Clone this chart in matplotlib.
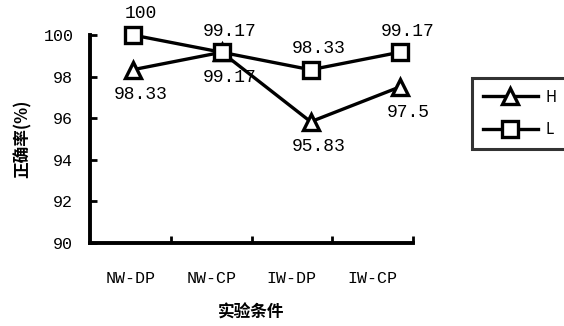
import matplotlib
matplotlib.use('Agg')
import matplotlib.pyplot as plt
from matplotlib.ticker import FixedLocator

plt.rcParams['font.family'] = ['Noto Sans CJK SC', 'DejaVu Sans']
NUM_FONT = 'Liberation Mono'

conditions = ['NW-DP', 'NW-CP', 'IW-DP', 'IW-CP']
acc_h = [98.33, 99.17, 95.83, 97.5]
acc_l = [100, 99.17, 98.33, 99.17]
labels_h = ['98.33', '99.17', '95.83', '97.5']
labels_l = ['100', '99.17', '98.33', '99.17']

fig = plt.figure(figsize=(5.64, 3.26), dpi=100)
ax = fig.add_axes([90 / 564, 1 - 243 / 326, 323 / 564, 208 / 326])

# category axis (labels + ticks)
ax.set_xlim(-0.5, 3.5)
ax.set_ylim(90, 100)
ax.set_yticks([90, 92, 94, 96, 98, 100])
ax.set_xticks(range(len(conditions)))
ax.set_xticklabels(conditions, fontsize=12, family=NUM_FONT)
for t in ax.get_yticklabels():
    t.set_family(NUM_FONT)
ax.xaxis.set_minor_locator(FixedLocator([0.5, 1.5, 2.5, 3.5]))
ax.tick_params(axis='x', which='major', length=0, pad=20)
ax.tick_params(axis='x', which='minor', direction='in', length=5, width=2)
ax.tick_params(axis='y', direction='in', length=5, width=2, labelsize=12, pad=12)
for s in ['top', 'right']:
    ax.spines[s].set_visible(False)
for s in ['left', 'bottom']:
    ax.spines[s].set_linewidth(2.8)

ax.set_ylabel('正确率(%)', fontsize=12, fontweight='bold', labelpad=8)
ax.set_xlabel('实验条件', fontsize=12, fontweight='bold', labelpad=13)

# data axis: points sit slightly off the category labels in the original
axd = ax.twiny()
axd.set_xlim(-0.48, 3.15)
axd.set_ylim(90, 100)
axd.axis('off')

x = list(range(len(conditions)))
lh, = axd.plot(x, acc_h, color='black', lw=2.4, marker='^', ms=11,
               mfc='white', mec='black', mew=2.4, label='H', zorder=3,
               clip_on=False)
ll, = axd.plot(x, acc_l, color='black', lw=2.4, marker='s', ms=11,
               mfc='white', mec='black', mew=2.4, label='L', zorder=4,
               clip_on=False)

for xi, v, t in zip(x, acc_l, labels_l):
    axd.annotate(t, (xi, v), xytext=(6, 9), textcoords='offset points',
                 ha='center', va='bottom', fontsize=13, family=NUM_FONT,
                 annotation_clip=False)
for xi, v, t in zip(x, acc_h, labels_h):
    axd.annotate(t, (xi, v), xytext=(6, -12), textcoords='offset points',
                 ha='center', va='top', fontsize=13, family=NUM_FONT,
                 annotation_clip=False)

leg = fig.legend(handles=[lh, ll], loc='upper left',
                 bbox_to_anchor=(472 / 564, 1 - 78 / 326), borderaxespad=0,
                 fontsize=11, handlelength=3.6, frameon=True, fancybox=False,
                 edgecolor='black', borderpad=0.7, labelspacing=1.0,
                 handletextpad=0.5)
leg.get_frame().set_linewidth(2.2)

fig.savefig('out.png', dpi=100)
